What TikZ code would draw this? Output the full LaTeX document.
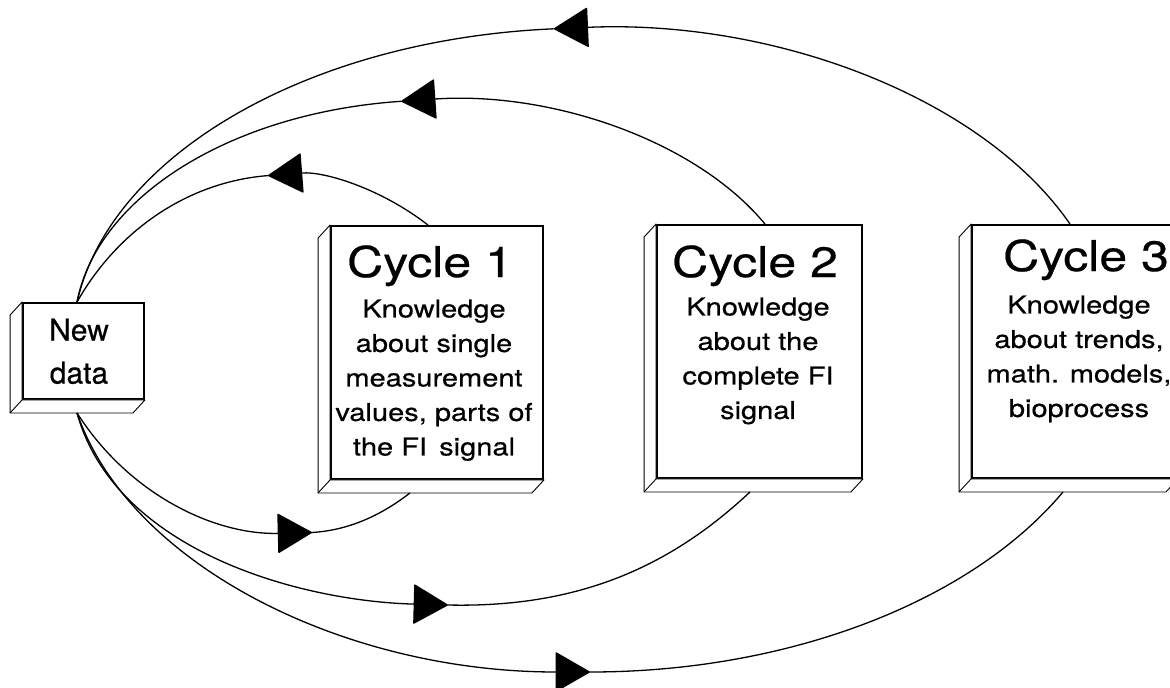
\documentclass[tikz,border=0pt]{standalone}
\usepackage{fontspec}
\newfontfamily\heros[FakeBold=0.5]{TeX Gyre Heros}
\newfontfamily\heroswide[FakeStretch=1.18,FakeBold=0.5]{TeX Gyre Heros}
\usetikzlibrary{arrows.meta}

\begin{document}
\begin{tikzpicture}[x=1pt, y=-1pt,
  face/.style={draw, line width=1.9pt, fill=white, inner sep=0pt},
  depth/.style={line width=0.9pt, line join=round, fill=white},
  flow/.style={line width=1.3pt},
  head/.style={-{Triangle[length=35pt,width=40pt,round]}},
  title/.style={font=\heroswide\fontsize{42.4}{42.4}\selectfont, inner sep=0pt, anchor=base},
  body/.style={font=\heroswide\fontsize{24.6}{34.5}\selectfont, align=center, inner sep=0pt, anchor=north},
  ndtext/.style={font=\heros\fontsize{30}{43}\selectfont, align=center, inner sep=0pt, anchor=north},
]
\useasboundingbox (0,0) rectangle (1170,688);
\fill[white] (0,0) rectangle (1170,688);
\clip (0,0) rectangle (1170,688);

% front faces of the slabs
\node[face, minimum width=121pt, minimum height=96pt]  (nd) at (83.5,351)   {};
\node[face, minimum width=212pt, minimum height=253pt] (c1) at (437,352.5)  {};
\node[face, minimum width=205pt, minimum height=253pt] (c2) at (759.5,351.5) {};
\node[face, minimum width=205pt, minimum height=253pt] (c3) at (1074.5,351.5) {};

% slab depth: left side and bottom edge
\foreach \n in {nd,c1,c2,c3} {
  \draw[depth] (\n.north west) -- ++(-12,13) -- ([shift={(-12,13)}]\n.south west)
     -- ([shift={(-12,13)}]\n.south east) -- (\n.south east) -- (\n.south west) -- cycle;
  \draw[depth] (\n.south west) -- ++(-12,13);
}

% texts
\node[ndtext] (ndt) at (79,318.5) {New\\data};

\node[title] (t1) at (430,277) {Cycle 1};
\node[body]  (k1) at (434,299.3) {Knowledge\\about single\\measurement\\values, parts of\\the FI\, signal};

\node[title] (t2) at (755,277) {Cycle 2};
\node[body]  (k2) at (758,297.3) {Knowledge\\about the\\complete FI\\signal};

\node[title] (t3) at (1086,271) {Cycle 3};
\node[body]  (k3) at (1079,295.3) {Knowledge\\about trends,\\math. models,\\bioprocess};

% arrow positions on the loops
\coordinate (a1) at (267.9,175.6);
\coordinate (a2) at (401.1,101.3);
\coordinate (a3) at (553.7,28.8);
\coordinate (b1) at (312.1,532.5);
\coordinate (b2) at (448,605);
\coordinate (b3) at (590,672);

% feedback loops (upper arcs): cycle -> new data
\draw[flow, head] ([xshift=-9pt]c1.north) .. controls (381.7,189.0) and (325.0,171.2) .. (a1);
\draw[flow] (a1) .. controls (189.3,181.7) and (118.3,229.1) .. ([xshift=-6.5pt]nd.north);

\draw[flow, head] ([xshift=5.5pt]c2.north) .. controls (695.9,140.4) and (551.3,91.1) .. (a2);
\draw[flow] (a2) .. controls (231.9,112.7) and (97.4,196.2) .. ([xshift=-6.5pt]nd.north);

\draw[flow, head] ([xshift=-4.5pt]c3.north) .. controls (983.2,98.1) and (775.7,19.2) .. (a3);
\draw[flow] (a3) .. controls (310.1,39.4) and (111.3,153.4) .. ([xshift=-6.5pt]nd.north);

% lower arcs: new data -> cycle
\draw[flow, head] ([shift={(-6.5,13)}]nd.south) .. controls (129.3,495) and (215,535) .. (b1);
\draw[flow] (b1) .. controls (352,530) and (384,513) .. ([shift={(-27,13)}]c1.south);

\draw[flow, head] ([shift={(-6.5,13)}]nd.south) .. controls (115,550) and (298,601) .. (b2);
\draw[flow] (b2) .. controls (578,608) and (670,567) .. ([shift={(-9.5,13)}]c2.south);

\draw[flow, head] ([shift={(-6.5,13)}]nd.south) .. controls (128.7,563.7) and (342.1,672) .. (b3);
\draw[flow] (b3) .. controls (789.5,672) and (971.4,601.3) .. ([shift={(-11.5,13)}]c3.south);
\end{tikzpicture}
\end{document}
